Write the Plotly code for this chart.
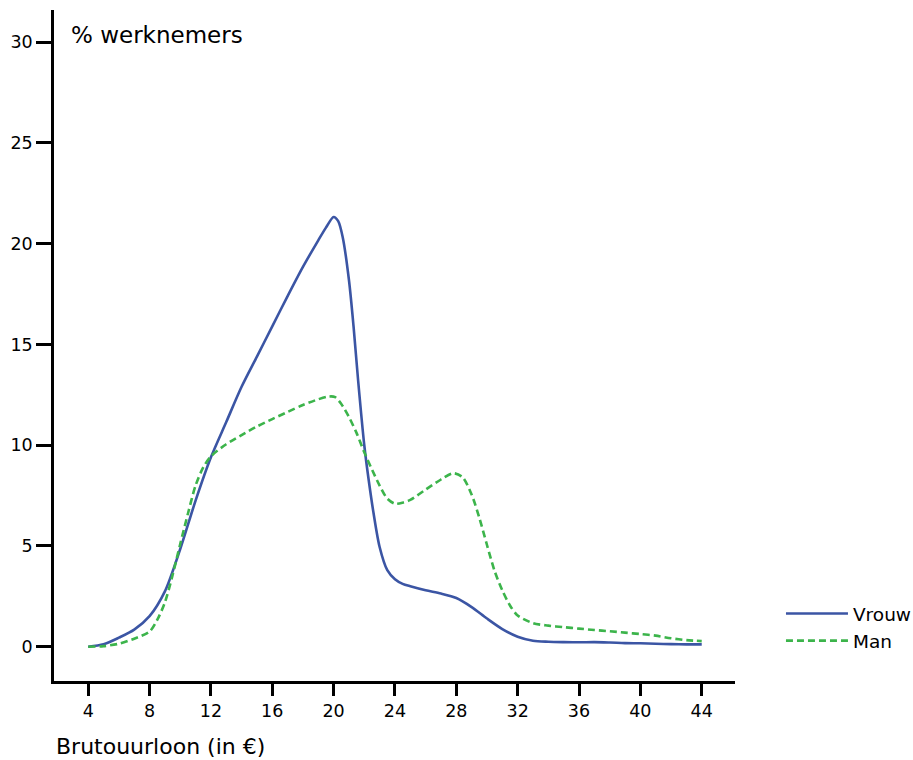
import plotly.graph_objects as go

# Brutouurloon (in €)
vrouw_x = [4, 5, 6, 7, 8, 9, 10, 11, 12, 13, 14, 15, 16, 17, 18, 19, 19.5, 20, 20.3, 20.6,
           21, 21.3, 21.6, 22, 22.3, 22.6, 23, 23.5, 24, 24.5, 25, 26, 27, 28, 29, 30, 31,
           32, 33, 34, 35, 36, 37, 38, 39, 40, 41, 42, 43, 44]
vrouw_y = [0, 0.12, 0.45, 0.85, 1.52, 2.75, 4.85, 7.25, 9.4, 11.15, 12.9, 14.4, 15.9, 17.4,
           18.85, 20.17, 20.8, 21.33, 21.12, 20.3, 18.2, 15.9, 13.2, 10.0, 8.2, 6.65, 4.95,
           3.8, 3.35, 3.12, 3.0, 2.8, 2.64, 2.42, 1.97, 1.4, 0.88, 0.5, 0.3, 0.25, 0.23, 0.22,
           0.23, 0.21, 0.18, 0.17, 0.15, 0.13, 0.12, 0.12]

man_x = [4, 5, 6, 7, 8, 8.5, 9, 9.5, 10, 10.5, 11, 11.5, 12, 13, 14, 15, 16, 17, 18, 19,
         19.7, 20.1, 20.5, 21, 21.5, 22, 22.5, 23, 23.5, 24, 24.5, 25, 26, 27, 27.8, 28.4,
         29, 29.5, 30, 30.5, 31, 31.5, 32, 33, 34, 35, 36, 37, 38, 39, 40, 41, 42, 43, 44]
man_y = [0, 0.03, 0.15, 0.4, 0.75, 1.33, 2.2, 3.55, 5.1, 6.6, 8.0, 8.9, 9.45, 10.05, 10.5,
         10.93, 11.3, 11.65, 12.0, 12.28, 12.42, 12.39, 12.05, 11.4, 10.6, 9.65, 8.8, 8.0,
         7.35, 7.1, 7.15, 7.29, 7.8, 8.3, 8.61, 8.42, 7.55, 6.4, 5.05, 3.75, 2.8, 2.05, 1.55,
         1.17, 1.05, 0.97, 0.9, 0.83, 0.77, 0.7, 0.63, 0.55, 0.42, 0.33, 0.28]

x_ticks = [4, 8, 12, 16, 20, 24, 28, 32, 36, 40, 44]
y_ticks = [0, 5, 10, 15, 20, 25, 30]

FONT = "DejaVu Sans"

ML, MR, MT, MB = 53.5, 178, 10, 79
W, H = 913, 760
PW = W - ML - MR
PH = H - MT - MB

fig = go.Figure()
fig.add_trace(go.Scatter(x=vrouw_x, y=vrouw_y, mode="lines", name="Vrouw",
                         line=dict(color="#3b55a4", width=2.6, shape="spline", smoothing=0.8)))
fig.add_trace(go.Scatter(x=man_x, y=man_y, mode="lines", name="Man",
                         line=dict(color="#3cb44b", width=2.6, dash="7px,4px",
                                   shape="spline", smoothing=0.8)))

fig.update_layout(
    width=W, height=H,
    margin=dict(l=ML, r=MR, t=MT, b=MB, autoexpand=False),
    paper_bgcolor="white", plot_bgcolor="white",
    font=dict(family=FONT, size=17.5, color="black"),
    showlegend=True,
    legend=dict(x=(786 - 5 - ML) / PW, y=(681 - 595) / PH, xanchor="left", yanchor="top",
                font=dict(family=FONT, size=18.5, color="black"),
                itemwidth=62, bgcolor="rgba(0,0,0,0)", tracegroupgap=0),
    xaxis=dict(range=[1.77, 46.17], tickmode="array", tickvals=x_ticks,
               showline=True, linecolor="black", linewidth=2.6, mirror=False,
               ticks="outside", ticklen=12, tickwidth=2.6, tickcolor="black",
               showgrid=False, zeroline=False, fixedrange=True, automargin=False),
    yaxis=dict(range=[-1.7, 31.6], tickmode="array", tickvals=y_ticks,
               showline=True, linecolor="black", linewidth=2.6,
               ticks="outside", ticklen=15, tickwidth=2.6, tickcolor="black",
               showgrid=False, zeroline=False, fixedrange=True, automargin=False),
    annotations=[
        dict(text="% werknemers", xref="paper", yref="paper", x=(69 - ML) / PW,
             y=(681 - 20) / PH, xanchor="left", yanchor="top", showarrow=False,
             font=dict(family=FONT, size=23, color="black")),
        dict(text="Brutouurloon (in €)", xref="paper", yref="paper", x=0,
             y=-(732 - 681) / PH, xanchor="left", yanchor="top", showarrow=False,
             font=dict(family=FONT, size=22, color="black")),
    ],
)

fig.write_html(
    "out.html",
    config={"displayModeBar": False},
    post_script="document.body.style.margin='0';document.body.style.overflow='hidden';",
)
